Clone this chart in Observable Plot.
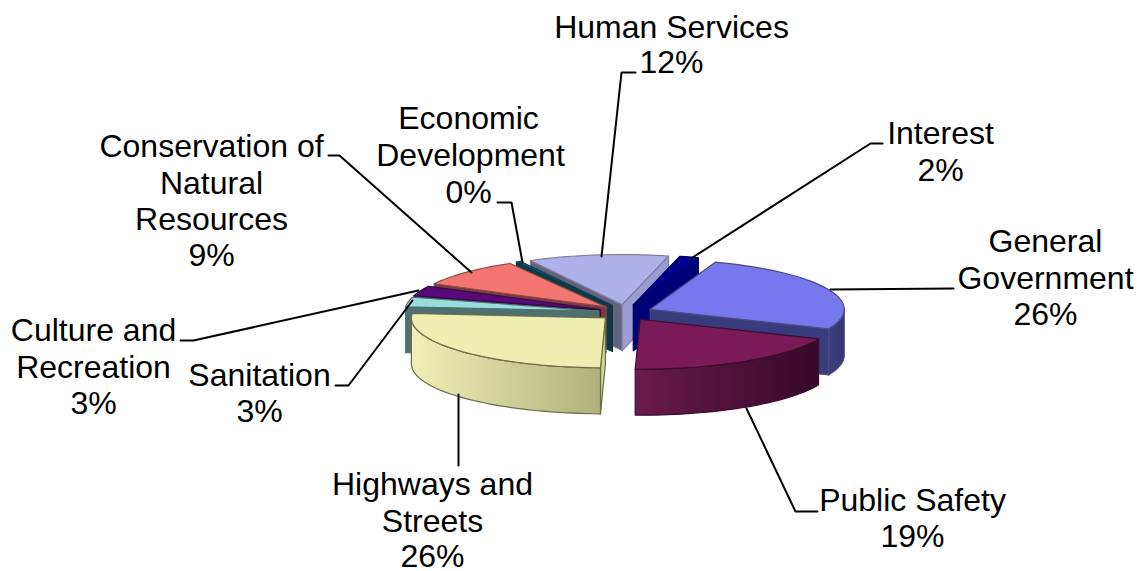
<!DOCTYPE html>
<html><head><meta charset="utf-8">
<script src="https://cdn.jsdelivr.net/npm/d3@7"></script>
<script src="https://cdn.jsdelivr.net/npm/@observablehq/plot@0.6"></script>
<style>html,body{margin:0;padding:0;background:#fff}svg{display:block}</style>
</head><body><div id="chart"></div>
<script>
// Data (clockwise from General Government)
const categories = ["General Government","Public Safety","Highways and Streets","Sanitation","Culture and Recreation","Conservation of Natural Resources","Economic Development","Human Services","Interest"];
const values = [26, 19, 26, 3.1, 3.2, 9.1, 0.4, 11.7, 1.6];

// Styles
const topColors  = ["#7878ee","#7a1a58","#eeeeb0","#99dcdc","#5a0a78","#f47672","#0a6680","#b0b0ea","#00008c"];
const startWall  = ["#3a3b7c","#5c1240","#d6d69c","#4f7070","#2e0540","#7a3a38","#0c3a48","#62627f","#000068"];
const endWall    = ["#3a3b7c","#5c1240","#d6d69c","#4f7070","#2e0540","#7a3a38","#0c3a48","#9c9cd4","#000078"];
const rimStops   = [["#3e3f84","#34356e"],["#6a1a4c","#36082a"],["#f0f0b6","#b0b07c"],["#4f7070","#4f7070"],["#2e0540","#2e0540"],["#7a3a38","#7a3a38"],["#0c3a48","#0c3a48"],["#62627f","#62627f"],["#000068","#000068"]];
const edgeColors = ["#4a4a80","#3c0c2c","#6c6c48","#4f7070","#3a0850","#8a4a48","#0c3a48","#80809c","#000060"];
const paintOrder = [7, 8, 6, 5, 4, 3, 0, 1, 2];

// Pie layout
const startDeg = 19.6, cx = 625, cy = 312, rx = 194, ry = 50, depth = 46, ex = 27, ey = 8;

// Label layout: one row per text line
const labelLines = [
  [0,"General",1045,241],[0,"Government",1045,278],[0,"%",1045,314],
  [1,"Public Safety",912,500],[1,"%",912,536],
  [2,"Highways and",432,484],[2,"Streets",432,521],[2,"%",432,556],
  [3,"Sanitation",259,375],[3,"%",259,411],
  [4,"Culture and",93,330],[4,"Recreation",93,367],[4,"%",93,403],
  [5,"Conservation of",211,146],[5,"Natural",211,183],[5,"Resources",211,219],[5,"%",211,255],
  [6,"Economic",468,118],[6,"Development",470,155],[6,"%",468,192],
  [7,"Human Services",671,27],[7,"%",671,62],
  [8,"Interest",940,133],[8,"%",940,170]
];
const leaders = [
  [[953,288],[830,289]],
  [[817,511],[795,511],[746,408]],
  [[458,394],[458,465]],
  [[335,385],[348,385],[412,300]],
  [[180,340],[193,340],[418,290]],
  [[328,155],[339,155],[471,272]],
  [[497,202],[511,202],[522,262]],
  [[635,72],[621,72],[601,256]],
  [[882,143],[870,143],[692,257]]
];

const total = d3.sum(values);
const rad = d => d * Math.PI / 180;
let acc = startDeg;
const slices = values.map((v, i) => {
  const a0 = acc; acc += v / total * 360;
  return {i, a0, a1: acc, mid: (a0 + acc) / 2};
});
slices.forEach(s => {
  s.ax = cx + ex * Math.sin(rad(s.mid));
  s.ay = cy - ey * Math.cos(rad(s.mid));
});
const rim = (s, deg) => [s.ax + rx * Math.sin(rad(deg)), s.ay - ry * Math.cos(rad(deg))];
const arcPts = (s, a, b) => {
  const n = Math.max(2, Math.ceil(Math.abs(b - a) / 2));
  return d3.range(n + 1).map(k => rim(s, a + (b - a) * k / n));
};

const faces = [];
const addFace = (pts, fill, stroke) => {
  const z = faces.length ? faces[faces.length - 1].z + 1 : 0;
  [...pts, pts[0]].forEach(([x, y]) => faces.push({x, y, z, fill, stroke}));
};
const down = ([x, y]) => [x, y + depth];
paintOrder.forEach(i => {
  const s = slices[i], stroke = edgeColors[i];
  const apex = [s.ax, s.ay];
  const sin0 = Math.sin(rad(s.a0)), sin1 = Math.sin(rad(s.a1));
  if (sin0 < 0) { const p = rim(s, s.a0); addFace([apex, p, down(p), down(apex)], startWall[i], stroke); }
  if (sin1 > 0) { const p = rim(s, s.a1); addFace([apex, p, down(p), down(apex)], endWall[i], stroke); }
  const lo = Math.max(s.a0, 90), hi = Math.min(s.a1, 270);
  if (hi > lo) {
    const pts = arcPts(s, lo, hi);
    addFace([...pts, ...pts.map(down).reverse()], `url(#rim${i})`, stroke);
  }
  addFace([apex, ...arcPts(s, s.a0, s.a1)], topColors[i], stroke);
});

const textRows = labelLines.map(([i, t, x, y]) => ({x, y, text: t === "%" ? `${Math.round(values[i])}%` : t}));
const leaderRows = leaders.flatMap((pts, i) => pts.map(([x, y]) => ({x, y, i})));

const defs = () => {
  const d = d3.create("svg:defs");
  rimStops.forEach((st, i) => {
    const g = d.append("linearGradient").attr("id", `rim${i}`);
    g.append("stop").attr("offset", "0%").attr("stop-color", st[0]);
    g.append("stop").attr("offset", "100%").attr("stop-color", st[1]);
  });
  return d.node();
};

const chart = Plot.plot({
  width: 1138, height: 571, margin: 0,
  style: {background: "#fff"},
  x: {domain: [0, 1138], range: [0, 1138], axis: null},
  y: {domain: [0, 571], range: [0, 571], axis: null},
  color: {type: "identity"},
  marks: [
    defs,
    Plot.line(faces, {x: "x", y: "y", z: "z", fill: "fill", stroke: "stroke", strokeWidth: 1.2, strokeLinejoin: "round"}),
    Plot.line(leaderRows, {x: "x", y: "y", z: "i", stroke: "#000", strokeWidth: 2, strokeLinejoin: "miter"}),
    Plot.text(textRows, {x: "x", y: "y", text: "text", fill: "#000", fontSize: 32, fontFamily: "'Liberation Sans', Arial, sans-serif", textAnchor: "middle", lineAnchor: "middle"})
  ]
});
document.getElementById("chart").append(chart);
</script></body></html>
